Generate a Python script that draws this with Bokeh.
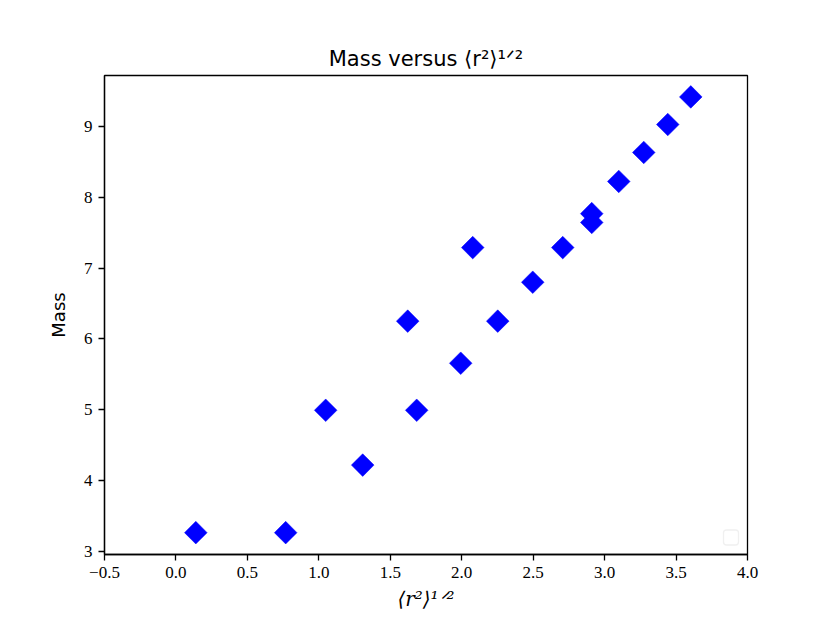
import math
from bokeh.plotting import figure
from bokeh.models import ColumnDataSource, Range1d, FixedTicker, BoxAnnotation
from bokeh.embed import file_html
from bokeh.resources import INLINE

# ---- data ----
r_half = [0.139, 0.768, 1.048, 1.307, 1.622, 1.685, 1.993, 2.077, 2.252,
          2.497, 2.707, 2.910, 2.910, 3.099, 3.274, 3.442, 3.603]
mass = [3.26, 3.26, 4.99, 4.215, 6.25, 4.99, 5.655, 7.29, 6.25,
        6.80, 7.29, 7.645, 7.77, 8.225, 8.635, 9.03, 9.42]

x_ticks = [-0.5, 0.0, 0.5, 1.0, 1.5, 2.0, 2.5, 3.0, 3.5, 4.0]
x_tick_labels = ["\u22120.5", "0.0", "0.5", "1.0", "1.5", "2.0", "2.5", "3.0", "3.5", "4.0"]
y_ticks = [3, 4, 5, 6, 7, 8, 9]
y_tick_labels = ["3", "4", "5", "6", "7", "8", "9"]

title_text = "Mass versus \u27e8r\u00b2\u27e9\u00b9\u141f\u00b2"
x_label = "\u27e8r\u00b2\u27e9\u00b9\u141f\u00b2"
y_label = "Mass"

# ---- figure ----
FRAME_L, FRAME_B = 104, 554.5  # frame position in the picture (px)

p = figure(width=822, height=615, output_backend="svg", toolbar_location=None,
           x_range=Range1d(-0.5, 4.0), y_range=Range1d(2.951, 9.723),
           min_border_left=104, min_border_right=75, min_border_top=75,
           min_border_bottom=61)
p.background_fill_color = "white"
p.border_fill_color = "white"
p.outline_line_color = "black"
p.outline_line_width = 1.3
p.xgrid.visible = False
p.ygrid.visible = False

p.title.text = title_text
p.title.align = "center"
p.title.text_font = "DejaVu Sans"
p.title.text_font_size = "21px"
p.title.text_font_style = "normal"
p.title.text_color = "black"
p.title.standoff = 9

src = ColumnDataSource(dict(x=r_half, y=mass))
p.scatter("x", "y", source=src, marker="square", size=16, angle=math.pi / 4,
          fill_color="#0000ff", line_color="#0000ff", line_width=0.5)

for ax in (p.xaxis[0], p.yaxis[0]):
    ax.axis_line_color = "black"
    ax.axis_line_width = 1.3
    ax.major_tick_line_color = "black"
    ax.major_tick_line_width = 1.3
    ax.major_tick_out = 6
    ax.major_tick_in = 0
    ax.minor_tick_out = 0
    ax.minor_tick_in = 0
    ax.major_label_text_font = "Liberation Serif"
    ax.major_label_text_font_size = "17px"
    ax.major_label_text_color = "black"

p.xaxis.ticker = FixedTicker(ticks=x_ticks)
p.xaxis.major_label_overrides = {t: l for t, l in zip(x_ticks, x_tick_labels)}
p.xaxis.major_label_standoff = 6
p.yaxis.ticker = FixedTicker(ticks=y_ticks)
p.yaxis.major_label_overrides = {t: l for t, l in zip(y_ticks, y_tick_labels)}
p.yaxis.major_label_standoff = 6

p.yaxis.axis_label = y_label
p.yaxis.axis_label_text_font = "DejaVu Sans"
p.yaxis.axis_label_text_font_style = "normal"
p.yaxis.axis_label_text_font_size = "18px"
p.yaxis.axis_label_text_color = "black"
p.yaxis.axis_label_standoff = 12

p.xaxis.axis_label = x_label
p.xaxis.axis_label_text_font = "DejaVu Serif"
p.xaxis.axis_label_text_font_style = "italic"
p.xaxis.axis_label_text_font_size = "20px"
p.xaxis.axis_label_text_color = "black"
p.xaxis.axis_label_standoff = 6

# empty legend frame (lower right)
p.add_layout(BoxAnnotation(left=723 - FRAME_L, right=738 - FRAME_L,
                           top=FRAME_B - 530, bottom=FRAME_B - 545,
                           left_units="screen", right_units="screen",
                           top_units="screen", bottom_units="screen",
                           fill_color="white", fill_alpha=0.8,
                           line_color="#cccccc", line_width=1.3,
                           border_radius=3))

open("out.html", "w").write(file_html(p, INLINE))
